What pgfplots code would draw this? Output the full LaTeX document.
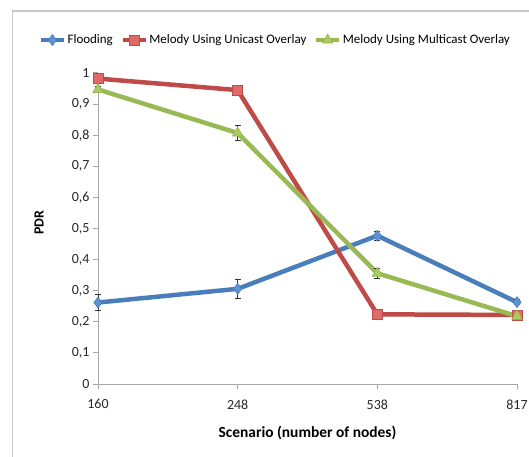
\documentclass[border=0pt]{standalone}
\usepackage{pgfplots}
\pgfplotsset{compat=1.18}
\usepackage{fontspec}
\setmainfont{Carlito}
\definecolor{fblue}{HTML}{4A7EBB}
\definecolor{fbluem}{HTML}{5F92D2}
\definecolor{fred}{HTML}{BE4B48}
\definecolor{fredm}{HTML}{E06A67}
\definecolor{fgreen}{HTML}{98B954}
\definecolor{fgreenm}{HTML}{A8CD5E}
\definecolor{axgray}{HTML}{A6A6A6}
\definecolor{framegray}{HTML}{C8C8C8}
\begin{document}
\begin{tikzpicture}
\useasboundingbox (0,0) rectangle (529bp,457bp);
\draw[framegray, line width=1.2bp] (12.5bp,0bp) -- (12.5bp,446bp) -- (529bp,446bp);
\begin{axis}[
  at={(98bp,73bp)}, anchor=south west,
  scale only axis, width=419bp, height=311bp,
  xmin=0, xmax=3, ymin=0, ymax=1,
  axis lines=left, axis line style={axgray, line width=1bp, -},
  xtick={0,1,2,3}, xticklabels={160,248,538,817},
  ytick={0,0.1,0.2,0.3,0.4,0.5,0.6,0.7,0.8,0.9,1},
  yticklabels={0,{0,1},{0,2},{0,3},{0,4},{0,5},{0,6},{0,7},{0,8},{0,9},1},
  tick align=outside, major tick length=5bp,
  tick style={axgray, line width=1bp},
  ticklabel style={font=\fontsize{14}{16}\selectfont, text=black!85},
  xticklabel style={yshift=-7bp},
  /pgf/number format/assume math mode=true,
  xlabel={Scenario (number of nodes)},
  ylabel={PDR},
  xlabel style={at={(axis description cs:0.5,-0.1576)}, anchor=center, font=\fontsize{15.5}{18}\selectfont\bfseries},
  ylabel style={at={(axis description cs:-0.1408,0.518)}, anchor=center, font=\fontsize{14}{16}\selectfont\bfseries},
  clip=false,
  legend columns=3,
  legend style={at={(axis description cs:0.4224,1.106)}, anchor=center, draw=none, fill=none,
    font=\fontsize{13}{15}\selectfont, inner sep=0pt,
    nodes={inner sep=1.5bp},
    /tikz/every even column/.append style={column sep=6bp}},
  legend cell align=left,
  legend image code/.code={\draw[mark repeat=2,mark phase=2,#1] plot coordinates {(0bp,0bp) (11.5bp,0bp) (23bp,0bp)};},
  every axis plot/.append style={line width=4.5bp},
  error bars/error bar style={black!80, line width=0.8bp},
  error bars/error mark options={rotate=90, black!80, mark size=3bp, line width=0.8bp},
]
\addplot[fblue, mark=diamond*, mark size=5.5bp, mark options={fill=fbluem, draw=fblue, line width=0.6bp},
  error bars/.cd, y dir=both, y explicit]
  coordinates {(0,0.262) +- (0,0.025) (1,0.306) +- (0,0.03) (2,0.477) +- (0,0.015) (3,0.263) +- (0,0.008)};
\addlegendentry{Flooding}
\addplot[fred, mark=square*, mark size=5bp, mark options={fill=fredm, draw=fred, line width=0.6bp}]
  coordinates {(0,0.982) (1,0.945) (2,0.224) (3,0.222)};
\addlegendentry{Melody Using Unicast Overlay}
\addplot[fgreen, mark=triangle*, mark size=6bp, mark options={fill=fgreenm, draw=fgreen, line width=0.6bp},
  error bars/.cd, y dir=both, y explicit]
  coordinates {(0,0.947) +- (0,0.01) (1,0.807) +- (0,0.025) (2,0.356) +- (0,0.015) (3,0.218) +- (0,0.005)};
\addlegendentry{Melody Using Multicast Overlay}
\end{axis}
\end{tikzpicture}
\end{document}
